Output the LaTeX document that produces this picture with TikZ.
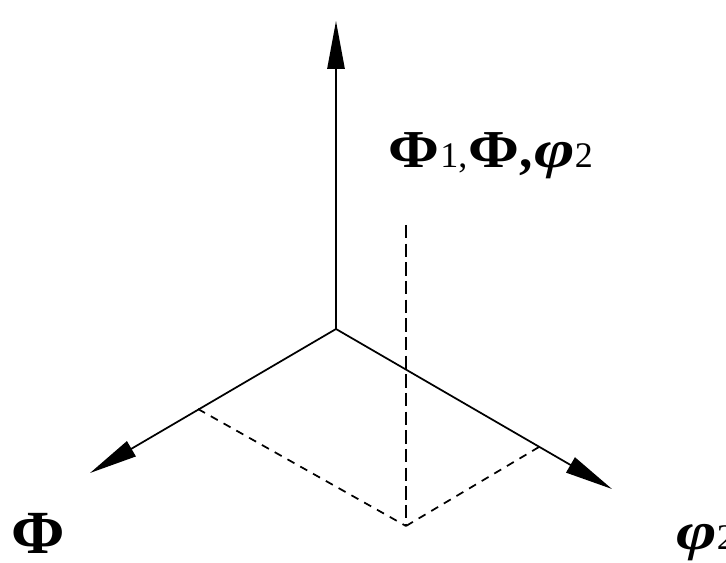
\documentclass[tikz,border=0pt]{standalone}
\usepackage{fontspec}
\usepackage{graphicx}
\setmainfont{Liberation Serif}
\usetikzlibrary{arrows.meta}
\newcommand{\bigsz}{\fontsize{40}{44}\selectfont}
\newcommand{\subsz}{\fontsize{27}{30}\selectfont}
\newcommand{\bPhi}{\scalebox{1.15}[1]{\textbf{Φ}}}
\newcommand{\bphi}{\scalebox{1.3}[1]{\textbf{\textit{φ}}}}
\begin{document}
\begin{tikzpicture}[x=0.75pt,y=-0.75pt,
  axis/.style={line width=1.3pt, -{Triangle[length=36pt,width=13pt]}},
  vguide/.style={line width=1.6pt, dash pattern=on 10pt off 4pt},
  dguide/.style={line width=1.3pt, dash pattern=on 6pt off 5pt},
  lbl/.style={inner sep=0pt, anchor=base west, text depth=0pt}]
\useasboundingbox (0,0) rectangle (726,563);
\coordinate (O) at (336,329);
\coordinate (Z) at (336,21);
\coordinate (L) at (90,473);
\coordinate (R) at (612,489);
\coordinate (A) at (198,409);
\coordinate (B) at (539,447);
\coordinate (J) at (406,526);
\coordinate (T) at (406,225);
\draw[axis] (O) -- (Z);
\draw[axis] (O) -- (L);
\draw[axis] (O) -- (R);
\draw[dguide] (A) -- (J);
\draw[dguide] (B) -- (J);
\draw[vguide] (T) -- (J);
\node[lbl] (top) at (388,168) {\bigsz\bPhi\kern1pt{\subsz 1,}\kern1pt\bPhi\textbf{,}\kern1pt\bphi{\subsz 2}};
\node[lbl] (lphi) at (11,553) {\fontsize{46}{50}\selectfont\scalebox{1.05}[1]{\textbf{Φ}}};
\node[lbl] (rphi) at (676,549) {\bigsz\bphi{\subsz 2}};
\end{tikzpicture}
\end{document}
